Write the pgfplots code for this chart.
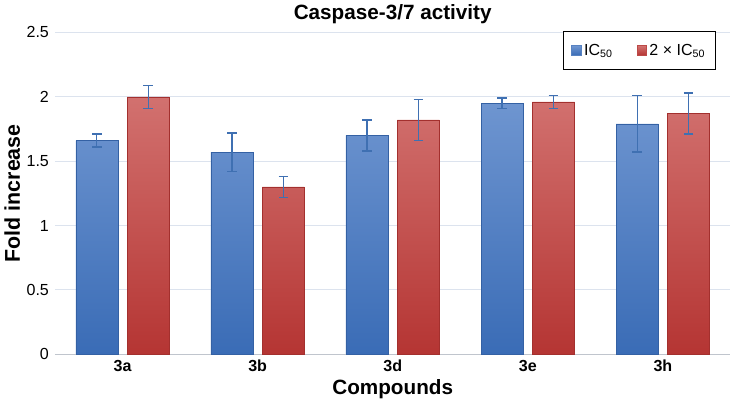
\documentclass[border=0pt]{standalone}
\usepackage{pgfplots}
\pgfplotsset{compat=1.18}
\usepackage{fontspec}
\setmainfont{Liberation Sans}

\definecolor{bluetop}{HTML}{6E95D0}
\definecolor{bluebot}{HTML}{3A6CB6}
\definecolor{redtop}{HTML}{D2716F}
\definecolor{redbot}{HTML}{B53533}
\definecolor{errblue}{HTML}{3F70B2}
\definecolor{gridc}{HTML}{DCE3EE}

\pgfplotsset{
  errs/.style={
    error bars/y dir=both, error bars/y explicit,
    error bars/error bar style={errblue, line width=1pt},
    error bars/error mark options={rotate=90, mark size=3.6pt, line width=1pt, errblue},
  }
}

\begin{document}
\begin{tikzpicture}
\begin{axis}[
  scale only axis,
  width=506pt, height=241pt,
  ybar=7pt,
  bar width=31.5pt,
  xmin=-0.5, xmax=4.5,
  ymin=0, ymax=2.5,
  ytick={0,0.5,...,2.5},
  xtick={0,1,2,3,4},
  xticklabels={3a,3b,3d,3e,3h},
  xticklabel style={font=\bfseries\fontsize{12}{14}\selectfont, yshift=-1pt},
  yticklabel style={font=\fontsize{12}{14}\selectfont, xshift=-1pt},
  /pgf/number format/assume math mode=true,
  major tick length=0pt,
  ymajorgrids,
  grid style={gridc, line width=0.8pt},
  axis x line*=bottom,
  axis y line*=left,
  y axis line style={draw=none},
  x axis line style={gridc!70!gray, line width=0.8pt},
  axis line style={-},
  title={\bfseries Caspase-3/7 activity},
  title style={font=\fontsize{15.5}{17}\selectfont, yshift=-3pt},
  xlabel={\bfseries Compounds},
  ylabel={\bfseries Fold increase},
  xlabel style={font=\fontsize{15.5}{17}\selectfont, yshift=1pt},
  ylabel style={font=\fontsize{16}{18}\selectfont, yshift=-2pt},
  legend style={at={(0.979,1.003)}, anchor=north east, legend columns=2,
    draw=black, line width=0.6pt, font=\fontsize{12}{14}\selectfont,
    inner xsep=6pt, inner ysep=7pt,
    /tikz/every even column/.append style={column sep=16pt}},
]
\addplot[draw=bluebot!90!black, top color=bluetop, bottom color=bluebot, errs,
  legend image code/.code={\fill[bluebot!85!white] (0pt,-3.5pt) rectangle (7pt,3.5pt);}]
  coordinates {
  (0,1.66) +- (0,0.05)
  (1,1.57) +- (0,0.15)
  (2,1.70) +- (0,0.12)
  (3,1.95) +- (0,0.04)
  (4,1.79) +- (0,0.22)
};
\addplot[draw=redbot!90!black, top color=redtop, bottom color=redbot, errs,
  legend image code/.code={\fill[redbot!90!white] (0pt,-3.5pt) rectangle (7pt,3.5pt);}]
  coordinates {
  (0,2.00) +- (0,0.09)
  (1,1.30) +- (0,0.08)
  (2,1.82) +- (0,0.16)
  (3,1.96) +- (0,0.05)
  (4,1.87) +- (0,0.16)
};
\legend{IC\textsubscript{50}, 2 × IC\textsubscript{50}}
\end{axis}
% a little white space below the x label, as in the reference
\path (current axis.south) ++(0,-37pt);
\end{tikzpicture}
\end{document}
